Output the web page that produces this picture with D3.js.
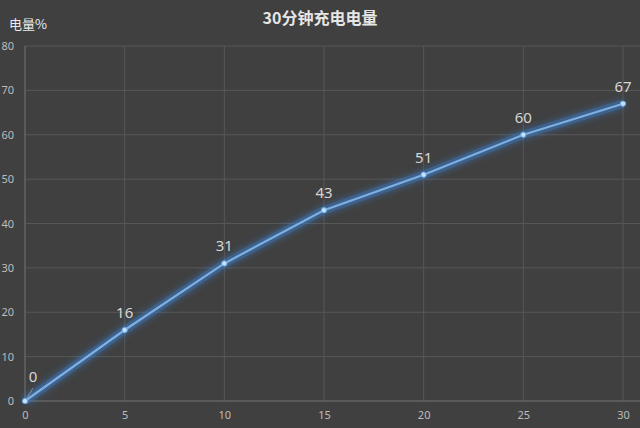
<!DOCTYPE html>
<html><head><meta charset="utf-8">
<script src="https://cdn.jsdelivr.net/npm/d3@7/dist/d3.min.js"></script>
<style>body{margin:0;background:#404040;}svg{display:block;}</style>
</head><body>
<svg id="c" width="640" height="428"></svg>
<script>
const minutes = [0, 5, 10, 15, 20, 25, 30];
const charge = [0, 16, 31, 43, 51, 60, 67];
const xTicks = [0, 5, 10, 15, 20, 25, 30];
const yTicks = [0, 10, 20, 30, 40, 50, 60, 70, 80];
const title = "30分钟充电电量";
const yTitle = "电量%";

const svg = d3.select("#c");
const W = 640, H = 428;
svg.append("rect").attr("width", W).attr("height", H).attr("fill", "#404040");

const x = d3.scaleLinear().domain([0, 30]).range([25, 623]);
const y = d3.scaleLinear().domain([0, 80]).range([401, 46]);

const defs = svg.append("defs");
const f = defs.append("filter").attr("id", "glow").attr("x", "-20%").attr("y", "-20%").attr("width", "140%").attr("height", "140%");
f.append("feGaussianBlur").attr("stdDeviation", 3.5).attr("result", "b");
const m = f.append("feMerge");
m.append("feMergeNode").attr("in", "b");
m.append("feMergeNode").attr("in", "SourceGraphic");

// grid
const g = svg.append("g");
g.selectAll(".hg").data(yTicks).join("line")
  .attr("x1", 25).attr("x2", 640).attr("y1", d => y(d)).attr("y2", d => y(d))
  .attr("stroke", "#575757").attr("stroke-width", 1);
g.selectAll(".vg").data(xTicks).join("line")
  .attr("y1", 46).attr("y2", 401).attr("x1", d => x(d)).attr("x2", d => x(d))
  .attr("stroke", "#575757").attr("stroke-width", 1);
g.append("line").attr("x1", 25).attr("x2", 25).attr("y1", 46).attr("y2", 401).attr("stroke", "#6a6a6a");
g.append("line").attr("x1", 25).attr("x2", 640).attr("y1", 401).attr("y2", 401).attr("stroke", "#6a6a6a");

const yAxis = svg.append("g").attr("transform", "translate(25,0)")
  .call(d3.axisLeft(y).tickValues(yTicks).tickSize(0).tickPadding(11));
yAxis.select(".domain").remove();
yAxis.selectAll("text").attr("fill", "#bdbdbd").style("font-family", "'Noto Sans', sans-serif").style("font-size", "11px");

const xAxis = svg.append("g").attr("transform", "translate(0,401)")
  .call(d3.axisBottom(x).tickValues(xTicks).tickSize(0).tickPadding(10));
xAxis.select(".domain").remove();
xAxis.selectAll("text").attr("fill", "#bdbdbd").style("font-family", "'Noto Sans', sans-serif").style("font-size", "11px");

const pts = minutes.map((d, i) => [d, charge[i]]);
const line = d3.line().x(d => x(d[0])).y(d => y(d[1]));
svg.append("path").datum(pts).attr("d", line).attr("fill", "none")
  .attr("stroke", "#3a82d4").attr("stroke-width", 8).attr("opacity", 0.5).attr("filter", "url(#glow)");
svg.append("path").datum(pts).attr("d", line).attr("fill", "none")
  .attr("stroke", "#7dafe2").attr("stroke-width", 2.2);
svg.selectAll(".pt").data(pts).join("circle")
  .attr("cx", d => x(d[0])).attr("cy", d => y(d[1])).attr("r", 2.6)
  .attr("fill", "#c4e2ff").attr("stroke", "#6fa8e0").attr("stroke-width", 1);

svg.append("line").attr("x1", x(0) + 2).attr("y1", y(0) - 3).attr("x2", x(0) + 8).attr("y2", y(0) - 13)
  .attr("stroke", "#9a9a9a").attr("stroke-width", 0.8);
svg.selectAll(".lbl").data(pts).join("text")
  .attr("x", d => d[0] === 0 ? x(d[0]) + 8 : x(d[0]))
  .attr("y", d => d[0] === 0 ? y(d[1]) - 19 : y(d[1]) - 12)
  .attr("text-anchor", "middle")
  .attr("fill", "#d6d6d6").style("font-family", "'Noto Sans', sans-serif").style("font-size", "15px")
  .text(d => d[1]);

svg.append("text").attr("x", 320).attr("y", 24).attr("text-anchor", "middle")
  .attr("fill", "#e6e6e6").style("font-family", "'Noto Sans CJK SC', sans-serif").style("font-size", "16px").style("font-weight", "bold")
  .text(title);
svg.append("text").attr("x", 9).attr("y", 29)
  .attr("fill", "#ececec").style("font-family", "'Noto Sans CJK SC', sans-serif").style("font-size", "13px")
  .text(yTitle);
</script>
</body></html>
